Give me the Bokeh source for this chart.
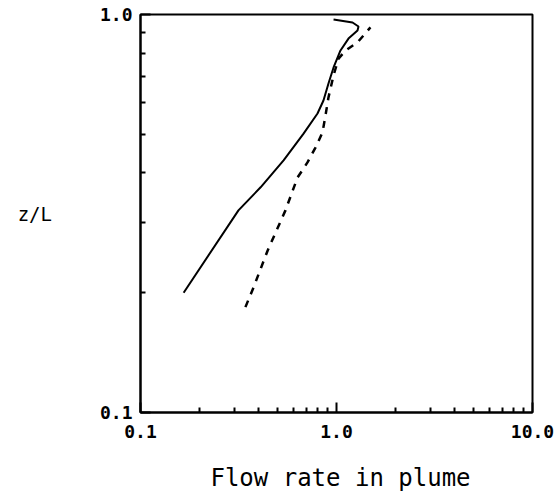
from bokeh.plotting import figure
from bokeh.models import FixedTicker, Label
from bokeh.embed import file_html
from bokeh.resources import INLINE

# Data (log-log)
solid_x = [0.166, 0.316, 0.410, 0.537, 0.679, 0.800, 0.858, 0.910, 0.966, 1.048, 1.151, 1.280, 1.295, 1.207, 0.966]
solid_y = [0.200, 0.322, 0.368, 0.430, 0.502, 0.564, 0.608, 0.671, 0.736, 0.812, 0.870, 0.912, 0.933, 0.955, 0.971]

dashed_x = [0.343, 0.377, 0.445, 0.549, 0.632, 0.711, 0.781, 0.848, 0.879, 0.910, 0.966, 1.024, 1.112, 1.280, 1.490]
dashed_y = [0.184, 0.206, 0.255, 0.322, 0.389, 0.425, 0.463, 0.505, 0.558, 0.619, 0.703, 0.775, 0.812, 0.851, 0.928]

x_major = [0.1, 1.0, 10.0]
x_minor = [0.2, 0.3, 0.4, 0.5, 0.6, 0.7, 0.8, 0.9, 2, 3, 4, 5, 6, 7, 8, 9]
x_labels = {0.1: "0.1", 1.0: "1.0", 10.0: "10.0"}
y_major = [0.1, 1.0]
y_minor = [0.2, 0.3, 0.4, 0.5, 0.6, 0.7, 0.8, 0.9]
y_labels = {0.1: "0.1", 1.0: "1.0"}
x_title = "Flow rate in plume"
y_title = "z/L"

FONT = "DejaVu Sans Mono"

p = figure(width=557, height=495, x_axis_type="log", y_axis_type="log",
           x_range=(0.1, 10), y_range=(0.1, 1.0),
           output_backend="svg", toolbar_location=None,
           min_border_left=140, min_border_right=25,
           min_border_top=14, min_border_bottom=83)

p.xgrid.visible = False
p.ygrid.visible = False
p.outline_line_color = "black"
p.outline_line_width = 2
p.background_fill_color = "white"
p.border_fill_color = "white"

p.xaxis.ticker = FixedTicker(ticks=x_major, minor_ticks=x_minor)
p.yaxis.ticker = FixedTicker(ticks=y_major, minor_ticks=y_minor)
p.xaxis.major_label_overrides = x_labels
p.yaxis.major_label_overrides = y_labels

for ax in (p.xaxis, p.yaxis):
    ax.axis_line_color = "black"
    ax.axis_line_width = 2
    ax.major_tick_in = 10
    ax.major_tick_out = 0
    ax.minor_tick_in = 5
    ax.minor_tick_out = 0
    ax.major_tick_line_width = 2
    ax.minor_tick_line_width = 2
    ax.major_tick_line_color = "black"
    ax.minor_tick_line_color = "black"
    ax.major_label_text_font = FONT
    ax.major_label_text_font_style = "bold"
    ax.major_label_text_font_size = "18px"
    ax.major_label_text_color = "black"

p.xaxis.major_label_standoff = 12
p.yaxis.major_label_standoff = 8

p.yaxis.axis_label = y_title
p.yaxis.axis_label_text_font = FONT
p.yaxis.axis_label_text_font_style = "normal"
p.yaxis.axis_label_text_font_size = "19px"
p.yaxis.axis_label_text_color = "black"
p.yaxis.axis_label_standoff = 45
p.yaxis.axis_label_orientation = "horizontal"

xlab = Label(x=200, y=-9, x_units="screen", y_units="screen",
             text=x_title, text_font=FONT, text_font_size="24px",
             text_align="center", text_baseline="middle", text_color="black")
p.add_layout(xlab, "below")

p.line(solid_x, solid_y, line_color="black", line_width=2)
p.line(dashed_x, dashed_y, line_color="black", line_width=2.5, line_dash="7 7")

open("out.html", "w").write(file_html(p, INLINE))
